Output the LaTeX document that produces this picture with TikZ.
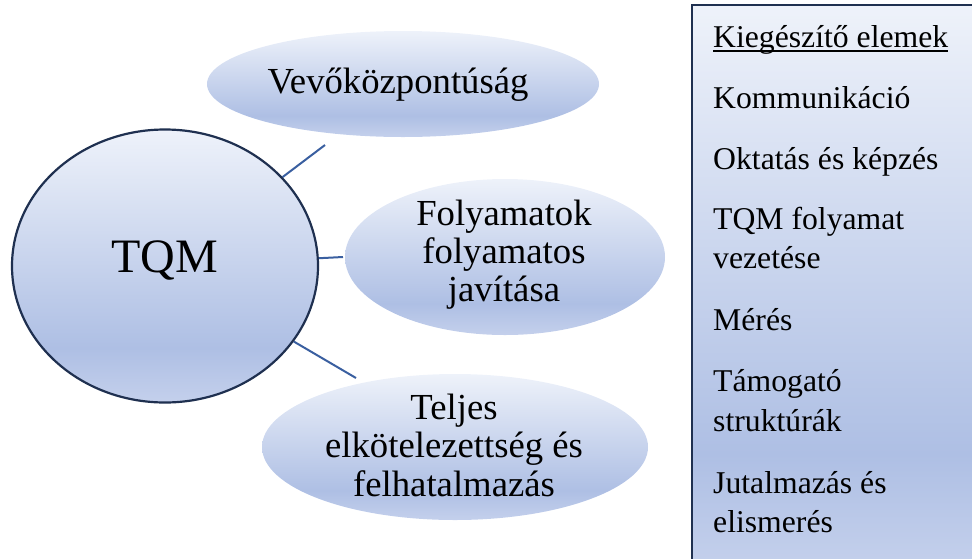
\documentclass[tikz,border=0pt]{standalone}
\usepackage{fontspec}
\setmainfont{Liberation Serif}
\usetikzlibrary{shapes.geometric}

\definecolor{navy}{HTML}{1F3050}
\definecolor{linkblue}{HTML}{3A5FA0}
\definecolor{shTop}{HTML}{EEF2FA}
\definecolor{shMid}{HTML}{AEBFE4}
\definecolor{shBot}{HTML}{C4D0EC}

% light at the top, base blue at about 80% down, a lighter band at the very bottom
\pgfdeclareverticalshading{softblue}{100bp}{color(0bp)=(shBot); color(25bp)=(shBot); color(35bp)=(shMid); color(75bp)=(shTop); color(100bp)=(shTop)}

\tikzset{
  bubble/.style={ellipse, shading=softblue, draw=none, inner sep=0pt},
  hub/.style={ellipse, shading=softblue, draw=navy, line width=2.2pt, inner sep=0pt},
  link/.style={draw=linkblue, line width=2pt},
  lbl/.style={font=\fontsize{36.7}{38}\selectfont, inner sep=0pt, anchor=base},
  bigtxt/.style={font=\fontsize{48}{50}\selectfont, inner sep=0pt, anchor=base},
  item/.style={font=\fontsize{31.7}{39}\selectfont, inner sep=0pt, anchor=base west},
  panel/.style={draw=navy, line width=2.4pt, shading=softblue}
}

\begin{document}
\begin{tikzpicture}[x=1pt, y=-1pt]
\useasboundingbox (0,0) rectangle (972,558);
\clip (0,0) rectangle (972,558);

% side panel with the supplementary elements
\path[panel] (692,5) rectangle (990,566);
\node[item] (k0) at (713,47) {Kiegészítő elemek};
\draw[line width=1.8pt] ([yshift=-4pt]k0.base west) -- ([yshift=-4pt]k0.base east);
\node[item] (k1) at (713,108) {Kommunikáció};
\node[item] (k2) at (713,169) {Oktatás és képzés};
\node[item] (k3a) at (713,229) {TQM folyamat};
\node[item] (k3b) at (713,268) {vezetése};
\node[item] (k4) at (713,330) {Mérés};
\node[item] (k5a) at (713,391) {Támogató};
\node[item] (k5b) at (713,431) {struktúrák};
\node[item] (k6a) at (713,493) {Jutalmazás és};
\node[item] (k6b) at (713,532) {elismerés};

% the three pillars
\node[bubble, minimum width=392pt, minimum height=106pt] (e1) at (403,84) {};
\node[bubble, minimum width=320pt, minimum height=156pt] (e2) at (505,257) {};
\node[bubble, minimum width=386pt, minimum height=146pt] (e3) at (455,447) {};

\node[lbl] (t1) at (398,93) {Vevőközpontúság};
\node[lbl] (t2a) at (504,225) {Folyamatok};
\node[lbl] (t2b) at (504,263) {folyamatos};
\node[lbl] (t2c) at (504,301) {javítása};
\node[lbl] (t3a) at (454,419) {Teljes};
\node[lbl] (t3b) at (454,457) {elkötelezettség és};
\node[lbl] (t3c) at (454,496) {felhatalmazás};

% central TQM bubble
\node[hub, minimum width=306pt, minimum height=273pt] (tqm) at (165,266) {};
\node[bigtxt] (tqmt) at (165,272) {TQM};

% spokes towards the pillars
\coordinate (c1) at (325,145);
\coordinate (c2) at (343,257);
\coordinate (c3) at (356,378);
\draw[link] (tqm) -- (c1);
\draw[link] (tqm) -- (c2);
\draw[link] (tqm) -- (c3);
\end{tikzpicture}
\end{document}
